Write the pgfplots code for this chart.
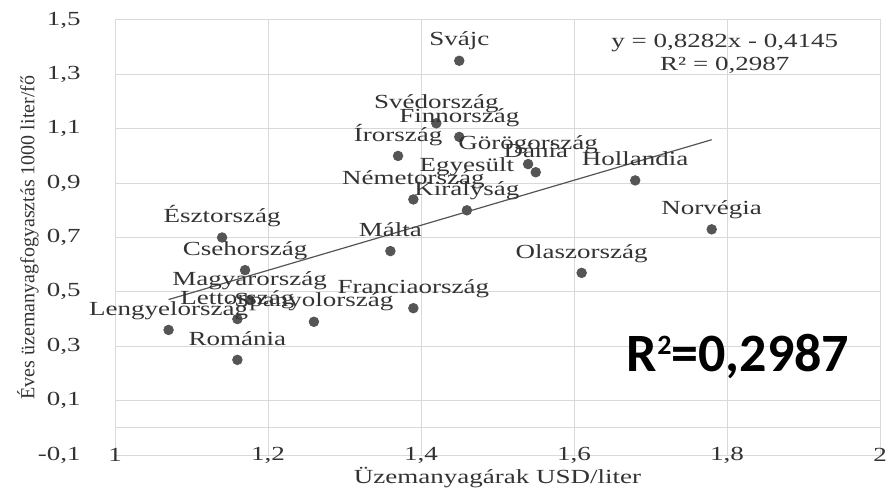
\documentclass[border=0pt]{standalone}
\usepackage{pgfplots}
\pgfplotsset{compat=1.18}
\usepackage{fontspec}
\setmainfont{Liberation Serif}
\newfontfamily\carlito{Carlito}
\definecolor{gridc}{HTML}{D9D9D9}
\definecolor{dotc}{HTML}{555555}
\definecolor{txtc}{HTML}{333333}
\newcommand{\cf}{\fontsize{10}{12}\selectfont}
\newcommand{\ek}{\begin{tabular}[b]{@{}c@{}}Egyesült\\Királyság\end{tabular}}
\begin{document}
\begin{tikzpicture}
\begin{axis}[name=ax, scale only axis, width=382.5pt, height=217.5pt,
  xmin=1, xmax=2, ymin=-0.1, ymax=1.5, clip=false,
  xtick={1,1.2,1.4,1.6,1.8,2},
  xticklabels={1,{1,2},{1,4},{1,6},{1,8},2},
  ytick={-0.1,0.1,0.3,0.5,0.7,0.9,1.1,1.3,1.5},
  yticklabels={{\llap{-}0,1},{0,1},{0,3},{0,5},{0,7},{0,9},{1,1},{1,3},{1,5}},
  extra y ticks={0}, extra y tick labels={},
  grid=major, major grid style={gridc, line width=0.5pt},
  axis line style={gridc, line width=0.5pt},
  major tick length=0pt,
  tick label style={font=\cf, text=txtc, xscale=1.35, inner sep=0pt},
  xticklabel style={anchor=center},
  yticklabel style={anchor=east, xshift=-12.5pt},
  xlabel={Üzemanyagárak USD/liter},
  xlabel style={at={(axis description cs:0.5,-0.0529)}, anchor=center, font=\cf, text=txtc, xscale=1.35},
  ylabel={Éves üzemanyagfogyasztás 1000 liter/fő},
  ylabel style={at={(axis description cs:-0.1137,0.5)}, anchor=center, font=\cf, text=txtc},
]
% trend line
\addplot[dotc, line width=0.6pt, no marks] coordinates {(1.07,0.4717) (1.78,1.0597)};
% countries
\addplot[only marks, mark=*, mark size=2.4pt, mark options={fill=dotc, draw=dotc},
  nodes near coords, point meta=explicit symbolic,
  every node near coord/.append style={anchor=south, inner sep=0pt, yshift=5pt,
    font=\cf, text=txtc, xscale=1.35, text depth=0.22em}]
coordinates {
(1.45,1.35) [Svájc]
(1.42,1.12) [Svédország]
(1.45,1.07) [Finnország]
(1.37,1.00) [Írország]
(1.54,0.97) [Görögország]
(1.55,0.94) [Dánia]
(1.39,0.84) [Németország]
(1.46,0.80) [\ek]
(1.68,0.91) [Hollandia]
(1.78,0.73) [Norvégia]
(1.61,0.57) [Olaszország]
(1.14,0.70) [Észtország]
(1.36,0.65) [Málta]
(1.17,0.58) [Csehország]
(1.176,0.47) [Magyarország]
(1.16,0.40) [Lettország]
(1.26,0.39) [Spanyolország]
(1.07,0.36) [Lengyelország]
(1.16,0.25) [Románia]
(1.39,0.44) [Franciaország]
};
\node[align=center, font=\fontsize{10}{11.5}\selectfont, text=txtc, xscale=1.35]
  at (axis cs:1.797,1.377) {y = 0,8282x - 0,4145\\R² = 0,2987};
\node[anchor=base west, font=\carlito\bfseries\fontsize{27}{30}\selectfont, text=black]
  at (axis cs:1.660,0.206) {R\raisebox{8.6pt}{\fontsize{14}{14}\selectfont 2}=0,2987};
\end{axis}
\pgfresetboundingbox
\path[use as bounding box] ([shift={(-57.5pt,-16.5pt)}]ax.south west) rectangle ([shift={(3pt,10pt)}]ax.north east);
\end{tikzpicture}
\end{document}
